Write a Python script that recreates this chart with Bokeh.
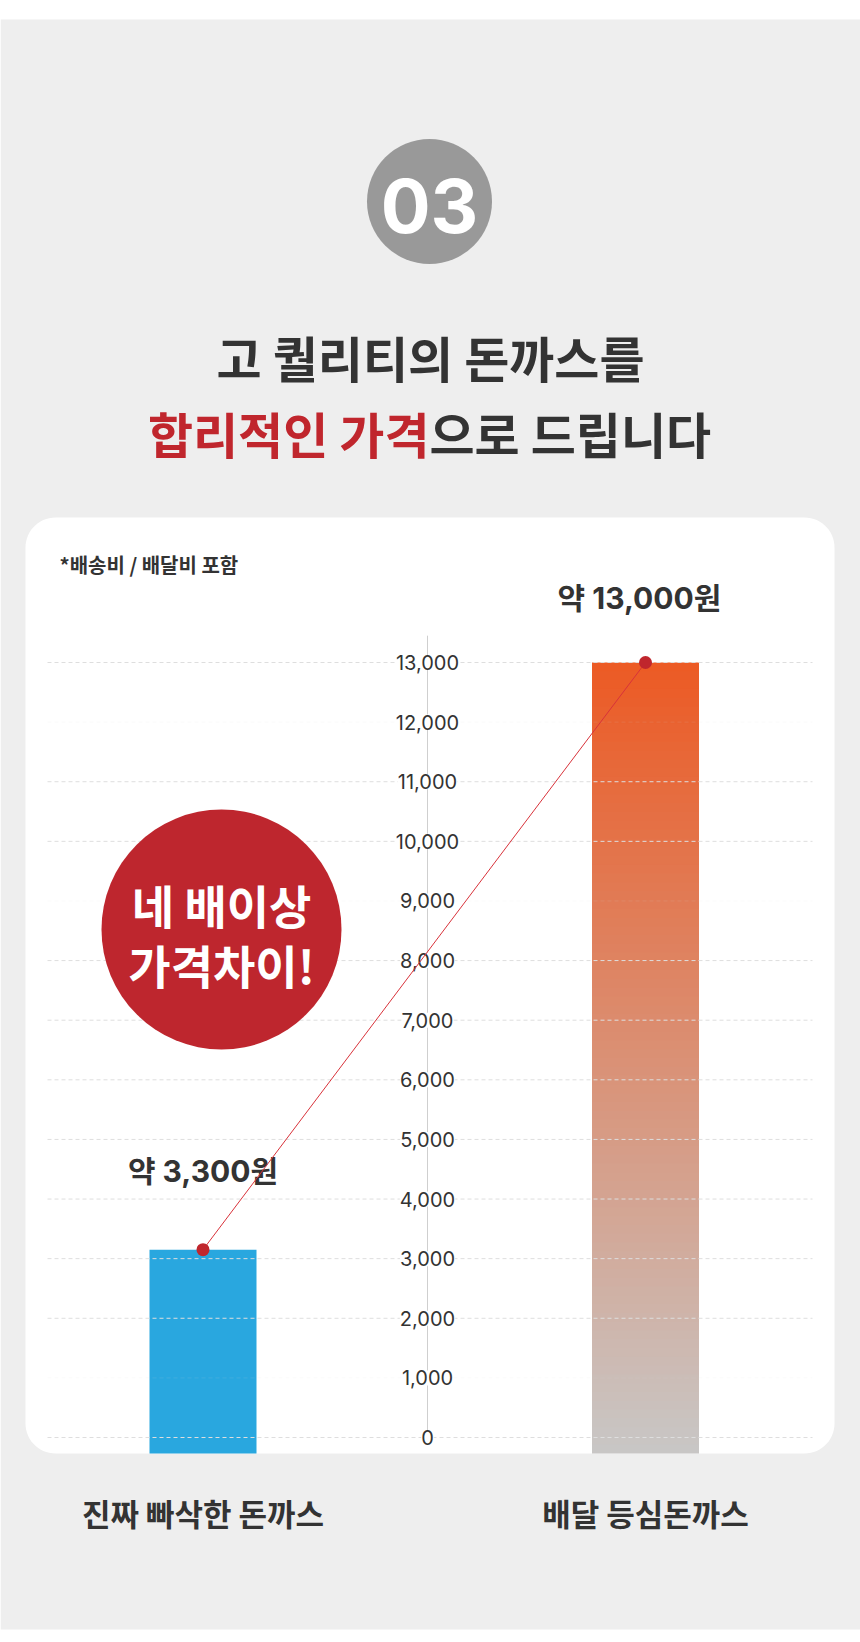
import numpy as np
from bokeh.plotting import figure
from bokeh.models import Range1d
from bokeh.core.properties import value
from bokeh.embed import file_html
from bokeh.resources import INLINE

# ---------------- data ----------------
categories = ["진짜 빠삭한 돈까스", "배달 등심돈까스"]
prices = [3150, 13000]
price_labels = ["약 3,300원", "약 13,000원"]
tick_values = [0, 1000, 2000, 3000, 4000, 5000, 6000, 7000, 8000, 9000, 10000, 11000, 12000, 13000]
tick_labels = ["0", "1,000", "2,000", "3,000", "4,000", "5,000", "6,000", "7,000",
               "8,000", "9,000", "10,000", "11,000", "12,000", "13,000"]
badge_number = "03"
title_line1 = "고 퀄리티의 돈까스를"
title_line2_red = "합리적인 가격"
title_line2_dark = "으로 드립니다"
note_text = "*배송비 / 배달비 포함"
callout_lines = ["네 배이상", "가격차이!"]

# ---------------- layout / style ----------------
W, H = 860, 1642
ZERO_PX = 1437          # pixel row of value 0
TOP_PX = 662            # pixel row of the top tick
PPU = (ZERO_PX - TOP_PX) / tick_values[-1]   # pixels per unit
X0_PX, STEP_PX = 202.5, 442.5                # pixel column of first category, spacing
CARD = dict(left=25, right=834, top=517, bottom=1453, r=30)
BAR_W_PX = 107
AXIS_X = 427
GRID_X0, GRID_X1 = 47, 812

DARK = "#333333"
RED = "#c0262d"
BLUE = "#29a7df"
GRAD_TOP = np.array([236, 90, 36])
GRAD_BOT = np.array([200, 199, 198])
KR = value("Noto Sans CJK KR")
NUM = value("Inter, Noto Sans CJK KR")

y_start = -(H - ZERO_PX) / PPU
y_end = ZERO_PX / PPU
x_start = -X0_PX / STEP_PX
x_end = (W - X0_PX) / STEP_PX
bar_w = BAR_W_PX / STEP_PX
bar_bottom = -(CARD["bottom"] - ZERO_PX) / PPU
cat_x = list(range(len(categories)))

p = figure(width=W, height=H, x_range=Range1d(x_start, x_end), y_range=Range1d(y_start, y_end),
           x_axis_location=None, y_axis_location=None, toolbar_location=None,
           output_backend="svg", min_border=0, outline_line_color=None,
           background_fill_color="white", border_fill_color="white")
p.grid.visible = False
p.extra_x_ranges = {"px": Range1d(0, W)}
p.extra_y_ranges = {"py": Range1d(H, 0)}
PX = dict(x_range_name="px", y_range_name="py")

# page background
p.quad(left=[0], right=[W], top=[19], bottom=[1629], color="#eeeeee", line_color=None, **PX)

# rounded white card
def rounded_rect(l, r, t, b, rad, n=16):
    xs, ys = [], []
    corners = [(r - rad, t + rad, -90, 0), (r - rad, b - rad, 0, 90),
               (l + rad, b - rad, 90, 180), (l + rad, t + rad, 180, 270)]
    for cx, cy, a0, a1 in corners:
        a = np.radians(np.linspace(a0, a1, n))
        xs.extend(cx + rad * np.cos(a))
        ys.extend(cy + rad * np.sin(a))
    return xs, ys

cx_, cy_ = rounded_rect(CARD["left"], CARD["right"], CARD["top"], CARD["bottom"], CARD["r"])
p.patch(cx_, cy_, color="white", line_color=None, **PX)

# badge
p.circle(x=[429], y=[201], radius=62.5, color="#999999", line_color=None, **PX)
p.text(x=[429], y=[205], text=[badge_number], text_color="white", text_font=NUM,
       text_font_style="bold", text_font_size="74px", text_align="center",
       text_baseline="middle", **PX)

# title
p.text(x=[430], y=[356], text=[title_line1], text_color=DARK, text_font=KR,
       text_font_style="bold", text_font_size="49px", text_align="center",
       text_baseline="middle", **PX)
p.text(x=[429], y=[432], text=[title_line2_red], text_color=RED, text_font=KR,
       text_font_style="bold", text_font_size="49px", text_align="right",
       text_baseline="middle", **PX)
p.text(x=[429], y=[432], text=[title_line2_dark], text_color=DARK, text_font=KR,
       text_font_style="bold", text_font_size="49px", text_align="left",
       text_baseline="middle", **PX)

# note
p.text(x=[59], y=[564], text=[note_text], text_color=DARK, text_font=KR,
       text_font_style="bold", text_font_size="20px", text_align="left",
       text_baseline="middle", **PX)

# bars
p.vbar(x=[cat_x[0]], top=[prices[0]], bottom=bar_bottom, width=bar_w,
       color=BLUE, line_color=None)
n = 90
edges = np.linspace(bar_bottom, prices[1], n + 1)
step = edges[1] - edges[0]
tops = np.minimum(edges[1:] + step * 0.6, prices[1])
t = (np.arange(n) + 0.5) / n
cols = ["#%02x%02x%02x" % tuple(np.round(GRAD_BOT + (GRAD_TOP - GRAD_BOT) * ti).astype(int)) for ti in t]
p.quad(left=cat_x[1] - bar_w / 2, right=cat_x[1] + bar_w / 2,
       bottom=edges[:-1], top=tops, fill_color=cols, line_color=None)

# grid lines (over bars)
faint = {1000, 9000, 12000}
grid_alpha = [0.12 if v in faint else 1.0 for v in tick_values]
p.segment(x0=[GRID_X0] * len(tick_values), x1=[GRID_X1] * len(tick_values),
          y0=tick_values, y1=tick_values, line_color="#dedede", line_width=1,
          line_dash="4 3", line_alpha=grid_alpha, x_range_name="px")

# axis line
p.segment(x0=[AXIS_X], x1=[AXIS_X], y0=[tick_values[0]], y1=[tick_values[-1] + 450],
          line_color="#cfcfcf", line_width=1, x_range_name="px")

# tick labels
p.text(x=[AXIS_X] * len(tick_values), y=tick_values, text=tick_labels,
       text_color=DARK, text_font=NUM, text_font_size="20px", text_align="center",
       text_baseline="middle", background_fill_color="white", x_range_name="px")

# callout circle
p.circle(x=[221], y=[929], radius=120, color="#be262e", line_color=None, **PX)
for txt, yy in zip(callout_lines, [903, 963]):
    p.text(x=[221], y=[yy], text=[txt], text_color="white", text_font=KR,
           text_font_style="bold", text_font_size="46px", text_align="center",
           text_baseline="middle", **PX)

# value labels
p.text(x=cat_x, y=prices, text=price_labels, x_offset=[0, -6], y_offset=[-79, -65],
       text_color=DARK, text_font=NUM, text_font_style="bold", text_font_size="30px",
       text_align="center", text_baseline="middle")

# connecting line and dots
p.line(x=cat_x, y=prices, line_color="#d8323a", line_width=1)
p.scatter(x=cat_x, y=prices, size=13, color=RED, line_color=None)

# category labels
p.text(x=cat_x, y=[1512] * len(cat_x), text=categories, text_color=DARK, text_font=KR,
       text_font_style="bold", text_font_size="31px", text_align="center",
       text_baseline="middle", y_range_name="py")

open("out.html", "w").write(file_html(p, INLINE))
